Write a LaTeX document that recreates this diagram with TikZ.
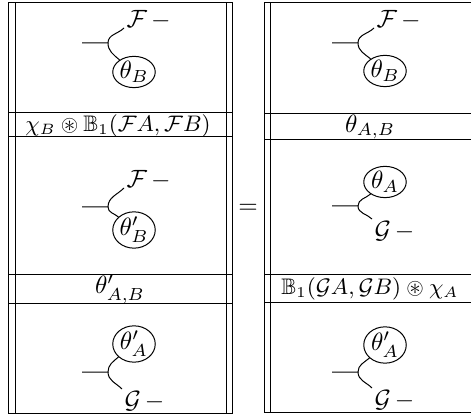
\documentclass[tikz,border=0pt]{standalone}
\usepackage{amsmath, amssymb}
\usepackage{tikz}
\usetikzlibrary{shapes.geometric}

\tikzset{
  bead/.style={draw, ellipse, inner sep=0pt, minimum width=17pt, minimum height=12.5pt},
  fleg/.style={inner sep=0.8pt, anchor=base west},
  gleg/.style={inner sep=0.8pt, anchor=north west},
  band/.style={inner sep=0pt},
  wideband/.style={band, font=\small},
}

\begin{document}
\begin{tikzpicture}[x=0.4pt, y=-0.4pt]
    \clip (0,0) rectangle (471,417);
    % left column - double rules
    \draw (8.5,3) rectangle (232.5,413);
    \draw (15,3) -- (15,413);
    \draw (226,3) -- (226,413);
    \foreach \y in {113,137,275,304}
        \draw (8.5,\y) -- (232.5,\y);
    % right column (runs off the page on the right)
    \draw (264,3) rectangle (481,412.5);
    \draw (270,3) -- (270,412.5);
    \draw (475,3) -- (475,412.5);
    \foreach \y in {113.5,140,275,303}
        \draw (264,\y) -- (481,\y);

    % left, top cell
    \coordinate (s1) at (82,43);
    \coordinate (j1) at (108,43);
    \node[fleg] (f1) at (124,28) {$\mathcal{F}\,-$};
    \node[bead] (t1) at (134,72) {$\theta_B$};
    \draw (s1) -- (j1) to[out=90,in=225] (f1.base west);
    \draw (j1) to[out=-90,in=140] (t1.140);

    \node[wideband] (b1) at (118,126) {$\chi_B \circledast \mathbb{B}_1(\mathcal{F}A,\mathcal{F}B)$};

    % left, middle cell
    \coordinate (s2) at (82,207);
    \coordinate (j2) at (108,207);
    \node[fleg] (f2) at (124,188) {$\mathcal{F}\,-$};
    \node[bead] (t2) at (134,230) {$\theta'_B$};
    \draw (s2) -- (j2) to[out=90,in=225] (f2.base west);
    \draw (j2) to[out=-90,in=140] (t2.140);

    \node[band] (b2) at (120,289) {$\theta'_{A,B}$};

    % left, bottom cell
    \coordinate (s3) at (82,372);
    \coordinate (j3) at (108,372);
    \node[bead] (t3) at (134,344) {$\theta'_A$};
    \node[gleg] (g3) at (122,389) {$\mathcal{G}\,-$};
    \draw (s3) -- (j3) to[out=90,in=220] (t3.220);
    \draw (j3) to[out=-90,in=135] (g3.north west);

    \node (eq) at (248,209) {$=$};

    % right, top cell
    \coordinate (s4) at (332,43);
    \coordinate (j4) at (358,43);
    \node[fleg] (f4) at (374,28) {$\mathcal{F}\,-$};
    \node[bead] (t4) at (385,71) {$\theta_B$};
    \draw (s4) -- (j4) to[out=90,in=225] (f4.base west);
    \draw (j4) to[out=-90,in=140] (t4.140);

    \node[band] (b4) at (370,127) {$\theta_{A,B}$};

    % right, middle cell
    \coordinate (s5) at (332,206);
    \coordinate (j5) at (358,206);
    \node[bead] (t5) at (385,182) {$\theta_A$};
    \node[gleg] (g5) at (372,219) {$\mathcal{G}\,-$};
    \draw (s5) -- (j5) to[out=90,in=220] (t5.220);
    \draw (j5) to[out=-90,in=135] (g5.north west);

    \node[wideband] (b5) at (370,289) {$\mathbb{B}_1(\mathcal{G}A,\mathcal{G}B) \circledast \chi_A$};

    % right, bottom cell
    \coordinate (s6) at (332,372);
    \coordinate (j6) at (358,372);
    \node[bead] (t6) at (385,345) {$\theta'_A$};
    \node[gleg] (g6) at (372,388) {$\mathcal{G}\,-$};
    \draw (s6) -- (j6) to[out=90,in=220] (t6.220);
    \draw (j6) to[out=-90,in=135] (g6.north west);
\end{tikzpicture}
\end{document}
